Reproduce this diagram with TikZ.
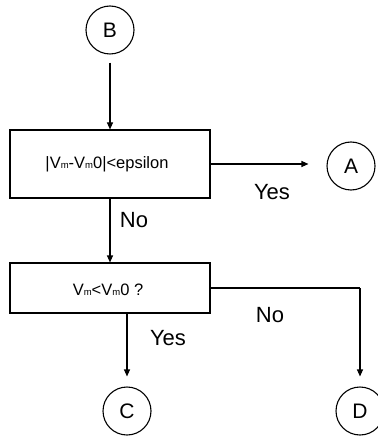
\documentclass[tikz,border=0pt]{standalone}
\usepackage{fontspec}
\setmainfont{Liberation Sans}
\usetikzlibrary{arrows.meta}
\newcommand\smm{{\fontsize{9.5}{9.5}\selectfont m}}
\begin{document}
\begin{tikzpicture}[x=1pt,y=-1pt,
  every node/.style={inner sep=0pt},
  conn/.style={circle,draw,line width=1.1pt,minimum size=48pt,font=\fontsize{21}{21}\selectfont},
  boxnode/.style={draw,line width=1.1pt},
  boxtext/.style={font=\fontsize{16.5}{16.5}\selectfont},
  lbl/.style={font=\fontsize{22}{22}\selectfont},
  arr/.style={line width=1.1pt,-{Triangle[length=7pt,width=6pt]}},
  ln/.style={line width=1.1pt}]
\useasboundingbox (0,0) rectangle (377,438);
\node[conn] (B) at (110,30) {B};
\node[boxnode,minimum width=200pt,minimum height=68pt] (box1) at (110,164) {};
\node[boxtext] (t1) at (107,164) {|V\smm-V\smm0|<epsilon};
\node[conn] (A) at (351,166) {A};
\node[boxnode,minimum width=200pt,minimum height=50pt] (box2) at (110,288) {};
\node[boxtext] (t2) at (108,290) {V\smm<V\smm0 ?};
\node[conn] (C) at (127,411) {C};
\node[conn] (D) at (360,411) {D};
\coordinate (dcorner) at (D |- box2.east);
\draw[arr,shorten <=8pt] (B) -- (box1);
\draw[arr,shorten >=18pt] (box1.east) -- (A.west |- box1.east);
\draw[arr] (box1) -- (box2);
\draw[arr,shorten >=10pt] (C |- box2.south) -- (C.north);
\draw[ln] (box2.east) -- (dcorner);
\draw[arr,shorten >=10pt] (dcorner) -- (D.north);
\node[lbl] (yes1) at (272,192) {Yes};
\node[lbl] (no1) at (134,220) {No};
\node[lbl] (yes2) at (168,338) {Yes};
\node[lbl] (no2) at (270,315) {No};
\end{tikzpicture}
\end{document}
